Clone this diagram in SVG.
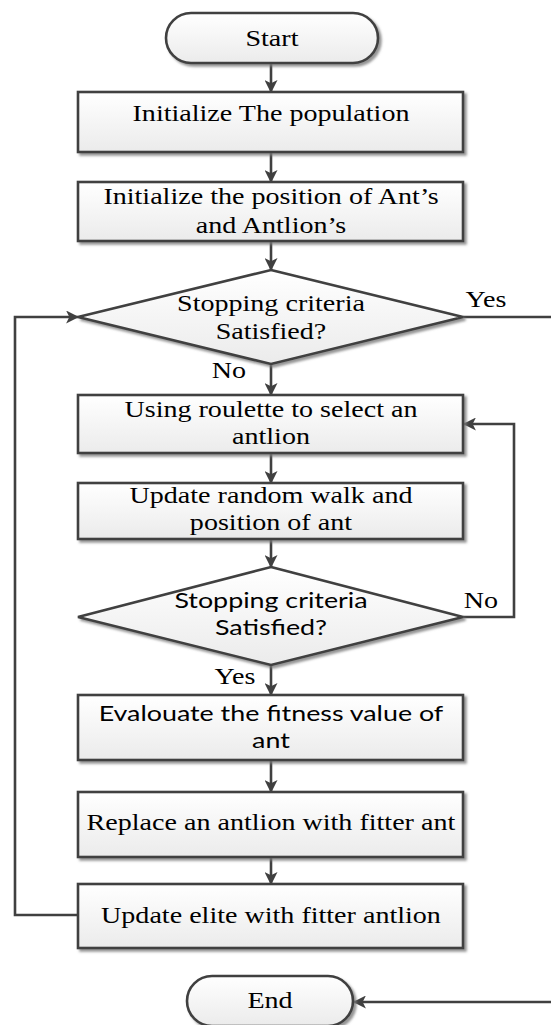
<svg xmlns="http://www.w3.org/2000/svg" width="551" height="1025" viewBox="0 0 551 1025">
  <defs>
    <linearGradient id="fillGrad" x1="0" y1="0" x2="0" y2="1">
      <stop offset="0" stop-color="#ffffff"/>
      <stop offset="1" stop-color="#ebebeb"/>
    </linearGradient>
    <filter id="shadow" x="-5%" y="-10%" width="115%" height="130%">
      <feDropShadow dx="2.5" dy="2.5" stdDeviation="0.8" flood-color="#7a7a7a" flood-opacity="0.8"/>
    </filter>
    <marker id="arrow" viewBox="0 0 12 12" refX="11" refY="6" markerWidth="13" markerHeight="13" markerUnits="userSpaceOnUse" orient="auto">
      <path d="M0,0 L12,6 L0,12 L3,6 Z" fill="#404040"/>
    </marker>
  </defs>
  <style>
    .shape { fill: url(#fillGrad); stroke: #404040; stroke-width: 2.6; filter: url(#shadow); }
    .edge { fill: none; stroke: #404040; stroke-width: 2.6; }
    .arr { marker-end: url(#arrow); }
    text { fill: #000; text-anchor: middle; transform-box: fill-box; transform-origin: center; }
    .serif { font-family: "Liberation Serif", "Times New Roman", serif; font-size: 24px; transform: scaleX(1.17); }
    .sans { font-family: Lato, "Open Sans", sans-serif; font-size: 22px; transform: scaleX(1.22); }
  </style>

  <!-- connectors -->
  <g id="connectors">
    <line class="edge arr" x1="271" y1="63" x2="271" y2="92"/>
    <line class="edge arr" x1="271" y1="152" x2="271" y2="182"/>
    <line class="edge arr" x1="271" y1="241" x2="271" y2="270"/>
    <line class="edge arr" x1="271" y1="364" x2="271" y2="395"/>
    <line class="edge arr" x1="271" y1="453" x2="271" y2="483"/>
    <line class="edge arr" x1="271" y1="539" x2="271" y2="567"/>
    <line class="edge arr" x1="271" y1="665" x2="271" y2="695"/>
    <line class="edge arr" x1="271" y1="760" x2="271" y2="792"/>
    <line class="edge arr" x1="271" y1="857" x2="271" y2="884"/>
    <!-- exit when the outer test is met -->
    <line class="edge" x1="463" y1="317" x2="551" y2="317"/>
    <line class="edge arr" x1="551" y1="1002" x2="354" y2="1002"/>
    <!-- inner loop back to roulette selection -->
    <polyline class="edge arr" points="463,617 514,617 514,424 464,424"/>
    <!-- outer loop back to the first test -->
    <polyline class="edge arr" points="78,915 15,915 15,317 78,317"/>
  </g>

  <g id="start">
    <rect class="shape" x="166" y="13" width="212" height="50" rx="25" ry="25"/>
    <text class="serif" x="272" y="46">Start</text>
  </g>

  <g id="init-population">
    <rect class="shape" x="78" y="92" width="385" height="60"/>
    <text class="serif" x="271" y="121">Initialize The population</text>
  </g>

  <g id="init-positions">
    <rect class="shape" x="78" y="182" width="385" height="59"/>
    <text class="serif" x="271" y="204">Initialize the position of Ant’s</text>
    <text class="serif" x="271" y="233">and Antlion’s</text>
  </g>

  <g id="outer-test">
    <polygon class="shape" points="271,270 463,317 271,364 78,317"/>
    <text class="serif" x="271" y="311">Stopping criteria</text>
    <text class="serif" x="271" y="339">Satisfied?</text>
  </g>
  <text class="serif" x="486" y="307">Yes</text>
  <text class="serif" x="229" y="378">No</text>

  <g id="roulette">
    <rect class="shape" x="78" y="395" width="385" height="58"/>
    <text class="serif" x="271" y="417">Using roulette to select an</text>
    <text class="serif" x="271" y="444">antlion</text>
  </g>

  <g id="random-walk">
    <rect class="shape" x="78" y="483" width="385" height="56"/>
    <text class="serif" x="271" y="503">Update random walk and</text>
    <text class="serif" x="271" y="530">position of ant</text>
  </g>

  <g id="inner-test">
    <polygon class="shape" points="271,567 463,617 271,665 78,617"/>
    <text class="sans" x="271" y="608">Stopping criteria</text>
    <text class="sans" x="271" y="635">Satisfied?</text>
  </g>
  <text class="serif" x="481" y="608">No</text>
  <text class="serif" x="235" y="684">Yes</text>

  <g id="evaluate">
    <rect class="shape" x="78" y="695" width="385" height="65"/>
    <text class="sans" x="271" y="721">Evalouate the fitness value of</text>
    <text class="sans" x="271" y="748">ant</text>
  </g>

  <g id="replace">
    <rect class="shape" x="78" y="792" width="385" height="65"/>
    <text class="serif" x="271" y="830">Replace an antlion with fitter ant</text>
  </g>

  <g id="update-elite">
    <rect class="shape" x="78" y="884" width="385" height="64"/>
    <text class="serif" x="271" y="923">Update elite with fitter antlion</text>
  </g>

  <g id="end">
    <rect class="shape" x="187" y="976" width="166" height="50" rx="25" ry="25"/>
    <text class="serif" x="270" y="1008">End</text>
  </g>
</svg>
